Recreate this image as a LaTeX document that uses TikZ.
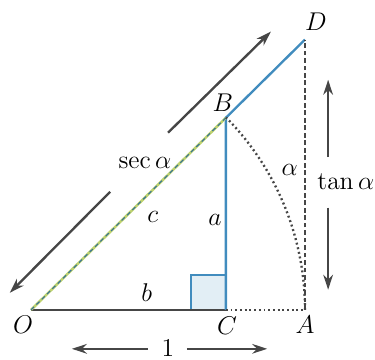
\documentclass[tikz,border=0pt]{standalone}
\usetikzlibrary{arrows.meta,calc}
\definecolor{sideblue}{RGB}{65,140,190}
\definecolor{darkline}{RGB}{70,70,70}
\definecolor{hypgreen}{RGB}{190,210,110}
\begin{document}
\begin{tikzpicture}[>={Stealth[length=7pt,width=4.5pt]},font=\large]
\tikzstyle{side}=[draw=sideblue,line width=1.1pt]
\tikzstyle{base}=[draw=darkline,line width=1.1pt]
\tikzstyle{dots}=[draw=darkline,line width=1.1pt,dash pattern=on 0.9pt off 1.3pt]
\tikzstyle{arr}=[->,draw=darkline,line width=1.1pt]
\useasboundingbox (-0.51,-0.81) rectangle (5.65,5.09);
\coordinate (O) at (0,0); \coordinate (C) at (3.2,0); \coordinate (A) at (4.5,0);
\coordinate (B) at (3.2,3.155); \coordinate (D) at (4.5,4.44);
% right angle at C
\draw[draw=sideblue,fill=sideblue!15,line width=0.9pt] ($(C)+(-0.575,0)$) rectangle ($(C)+(0,0.575)$);
\draw[base] (O) -- (C); \draw[side] (C) -- (B) -- (D);
\draw[draw=hypgreen,line width=1.2pt] (O) -- (B); \draw[draw=sideblue!80!black,line width=0.5pt,dash pattern=on 2pt off 1.5pt] (O) -- (B);
\draw[dots] (C) -- (A); \draw[draw=darkline,line width=1.1pt,dash pattern=on 2.2pt off 1.3pt] (A) -- (D);
\draw[dots] (A) arc[start angle=0,end angle=44.6,radius=4.5];
% labels
\node (lO) at (-0.13,-0.25) {$O$}; \node (lC) at (3.22,-0.26) {$C$}; \node (lA) at (4.5,-0.25) {$A$};
\node (lB) at (3.15,3.4) {$B$}; \node (lD) at (4.68,4.73) {$D$};
\node (lb) at (1.9,0.28) {$b$}; \node (la) at (3.02,1.48) {$a$}; \node (lc) at (2.0,1.53) {$c$};
\node (lsec) at (1.87,2.41) {$\sec\alpha$}; \node (ltan) at (5.17,2.1) {$\tan\alpha$};
\node (lal) at (4.25,2.3) {$\alpha$}; \node (lone) at (2.25,-0.63) {$1$};
% measure arrows
\coordinate (s1) at (1.3,1.94); \coordinate (s2) at (-0.35,0.28); \coordinate (s3) at (2.25,2.91); \coordinate (s4) at (3.94,4.57);
\coordinate (t1) at (4.88,2.51); \coordinate (t2) at (4.88,3.78); \coordinate (t3) at (4.88,1.68); \coordinate (t4) at (4.88,0.33);
\coordinate (u1) at (1.92,-0.64); \coordinate (u2) at (0.67,-0.64); \coordinate (u3) at (2.56,-0.64); \coordinate (u4) at (3.88,-0.64);
\draw[arr] (s1) -- (s2); \draw[arr] (s3) -- (s4); \draw[arr] (t1) -- (t2); \draw[arr] (t3) -- (t4);
\draw[arr] (u1) -- (u2); \draw[arr] (u3) -- (u4);
\end{tikzpicture}
\end{document}
